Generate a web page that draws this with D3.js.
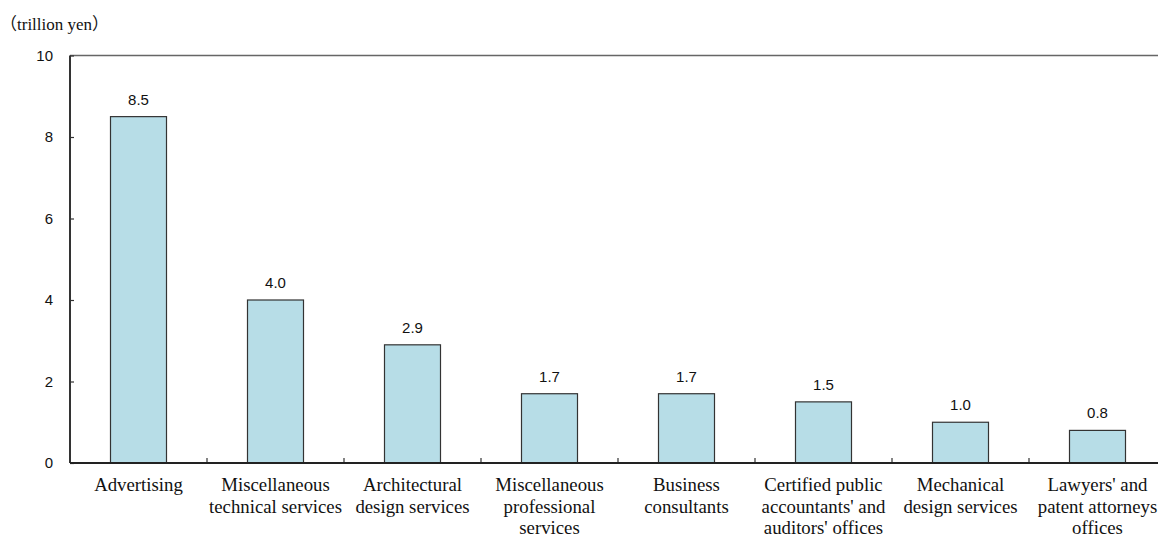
<!DOCTYPE html>
<html>
<head>
<meta charset="utf-8">
<script src="https://cdn.jsdelivr.net/npm/d3@7"></script>
<style>
  body { margin: 0; background: #fff; }
  svg { display: block; }
</style>
</head>
<body>
<svg id="chart" width="1158" height="536"></svg>
<script>
const categories = [
  ["Advertising"],
  ["Miscellaneous", "technical services"],
  ["Architectural", "design services"],
  ["Miscellaneous", "professional", "services"],
  ["Business", "consultants"],
  ["Certified public", "accountants' and", "auditors' offices"],
  ["Mechanical", "design services"],
  ["Lawyers' and", "patent attorneys", "offices"]
];
const values = [8.5, 4.0, 2.9, 1.7, 1.7, 1.5, 1.0, 0.8];
const valueLabels = ["8.5", "4.0", "2.9", "1.7", "1.7", "1.5", "1.0", "0.8"];
const yTicks = [0, 2, 4, 6, 8, 10];
const unitLabel = "（trillion yen）";

(function () {
const svg = d3.select("#chart");
const mLeft = 70, mRight = 1166, mTop = 55.5, mBottom = 463;
const keys = categories.map((c, i) => i);

const x = d3.scaleBand().domain(keys).range([mLeft, mRight]).paddingInner(0).paddingOuter(0);
const y = d3.scaleLinear().domain([0, 10]).range([mBottom, mTop]);
const barW = 56;

// top border
svg.append("line")
  .attr("x1", mLeft).attr("x2", 1158).attr("y1", mTop).attr("y2", mTop)
  .attr("stroke", "#666").attr("stroke-width", 1.5);

// bars
svg.selectAll("rect.bar").data(values).enter().append("rect")
  .attr("class", "bar")
  .attr("x", (d, i) => x(i) + x.bandwidth() / 2 - barW / 2)
  .attr("y", d => y(d))
  .attr("width", barW)
  .attr("height", d => y(0) - y(d))
  .attr("fill", "#b7dde7")
  .attr("stroke", "#333")
  .attr("stroke-width", 1.2);

// value labels
svg.selectAll("text.val").data(values).enter().append("text")
  .attr("class", "val")
  .attr("x", (d, i) => x(i) + x.bandwidth() / 2)
  .attr("y", d => y(d) - 12)
  .attr("text-anchor", "middle")
  .attr("font-family", "Liberation Sans, Arial, sans-serif")
  .attr("font-size", 15)
  .attr("fill", "#111")
  .text((d, i) => valueLabels[i]);

// y axis
const yAxis = d3.axisRight(y).tickValues(yTicks).tickSize(4).tickFormat("");
const gy = svg.append("g").attr("transform", `translate(${mLeft},0)`).call(yAxis);
gy.select(".domain").remove();
gy.selectAll(".tick line").attr("stroke", "#333").attr("stroke-width", 1.2);
svg.append("line")
  .attr("x1", mLeft).attr("x2", mLeft).attr("y1", mTop).attr("y2", mBottom)
  .attr("stroke", "#333").attr("stroke-width", 2);

svg.selectAll("text.ytick").data(yTicks).enter().append("text")
  .attr("class", "ytick")
  .attr("x", 53)
  .attr("y", d => y(d) + 5)
  .attr("text-anchor", "end")
  .attr("font-family", "Liberation Sans, Arial, sans-serif")
  .attr("font-size", 15)
  .attr("fill", "#111")
  .text(d => d);

// x axis
const boundaries = keys.slice(1).map(i => x(i));
svg.selectAll("line.xtick").data(boundaries).enter().append("line")
  .attr("class", "xtick")
  .attr("x1", d => d).attr("x2", d => d)
  .attr("y1", mBottom).attr("y2", mBottom - 5)
  .attr("stroke", "#333").attr("stroke-width", 1.2);
svg.append("line")
  .attr("x1", mLeft).attr("x2", 1158).attr("y1", mBottom).attr("y2", mBottom)
  .attr("stroke", "#222").attr("stroke-width", 2);

// category labels
const cat = svg.selectAll("text.cat").data(categories).enter().append("text")
  .attr("class", "cat")
  .attr("x", (d, i) => x(i) + x.bandwidth() / 2)
  .attr("y", 491)
  .attr("text-anchor", "middle")
  .attr("font-family", "Liberation Serif, Times New Roman, serif")
  .attr("font-size", 18.8)
  .attr("fill", "#111");
cat.selectAll("tspan").data(d => d).enter().append("tspan")
  .attr("x", function () { return d3.select(this.parentNode).attr("x"); })
  .attr("dy", (d, j) => j === 0 ? 0 : 21.5)
  .text(d => d);

// unit label
svg.append("text")
  .attr("x", 0).attr("y", 30)
  .attr("font-family", "Liberation Serif, Noto Sans CJK JP, serif")
  .attr("font-size", 17)
  .attr("fill", "#111")
  .text(unitLabel);
})();
</script>
</body>
</html>
